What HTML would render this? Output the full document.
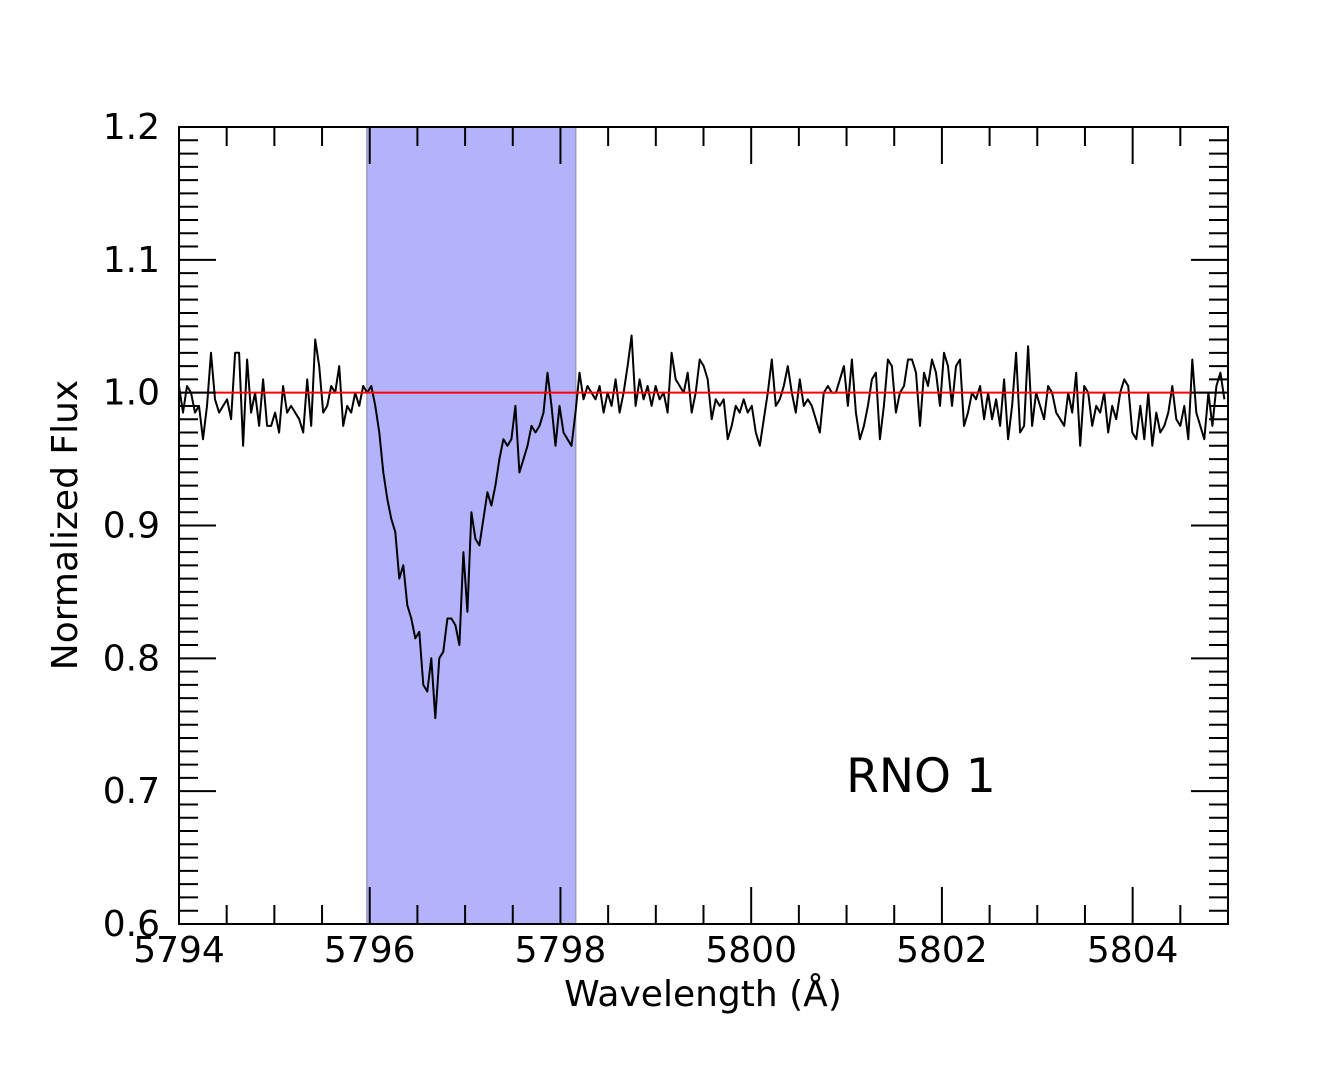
<!DOCTYPE html>
<html><head><meta charset="utf-8"><style>
body{margin:0;background:#fff;}
svg text{font-family:"DejaVu Sans","Liberation Sans",sans-serif;fill:#000;}
</style></head><body>
<svg id="chart" width="1333" height="1066" xmlns="http://www.w3.org/2000/svg">
<g id="plot"></g>
</svg>
<script>
const xTickLabels=[5794,5796,5798,5800,5802,5804];
const yTickLabels=["0.6","0.7","0.8","0.9","1.0","1.1","1.2"];
const bandRange=[5795.97,5798.16];
const continuum=[1.0];
const wlStart=[5794.0];
const wlStep=[0.042];
const fluxPre=[1.005,0.985,1.005,1.0,0.985,0.99,0.965,0.99,1.03,0.995,0.985,0.99,0.995,0.98,1.03,1.03,0.96,1.025,0.985,1.0,0.975,1.01,0.975,0.975,0.985,0.97,1.005,0.985,0.99,0.985,0.98,0.97,1.01,0.975,1.04,1.02,0.985,0.99,1.005,1.0,1.02,0.975,0.99,0.985,1.0,0.99,1.005];
const fluxTrough=[1.0,1.005,0.99,0.97,0.94,0.92,0.905,0.895,0.86,0.87,0.84,0.83,0.815,0.82,0.78,0.775,0.80,0.755,0.80,0.805,0.83,0.83,0.825,0.81,0.88,0.835,0.91,0.89,0.885,0.905,0.925,0.915,0.93,0.95,0.965,0.96,0.965,0.99,0.94,0.95,0.96,0.975,0.97,0.975,0.985,1.015,0.99,0.96,0.99,0.97,0.965,0.96,0.985,1.015,0.995];
const fluxPost=[1.005,1.0,0.995,1.005,0.985,1.0,0.99,1.01,0.985,1.0,1.02,1.043,0.99,1.01,0.995,1.005,0.99,1.005,0.995,1.0,0.985,1.03,1.01,1.005,1.0,1.015,0.985,1.0,1.025,
1.02,1.01,0.98,0.995,0.99,0.995,0.965,0.975,0.99,0.985,0.995,0.985,0.99,0.97,0.96,0.98,1.0,1.025,0.99,0.995,1.005,1.02,1.0,0.985,1.01,0.99,0.995,0.99,0.98,0.97,1.0,1.005,1.0,1.0,1.01,1.02,0.99,1.025,0.985,0.965,0.975,0.99,1.01,1.015,0.965,0.99,1.025,1.02,0.985,1.0,1.005,1.025,1.025,1.015,0.975,1.015,1.005,1.025,1.015,0.99,1.03,1.02,0.99,1.02,1.025,0.975,0.985,1.0,0.995,1.005,0.98,1.0,0.98,0.995,0.975,1.01,0.965,0.99,1.03,0.97,0.975,1.035,0.975,1.0,0.99,0.98,1.005,1.0,0.985,0.98,0.975,1.0,0.985,1.015,0.96,1.005,1.0,0.975,0.99,0.985,1.0,0.97,0.99,0.98,1.0,1.01,1.005,0.97,0.965,0.99,0.965,1.0,0.96,0.985,0.97,0.975,0.985,1.005,0.98,0.975,0.99,0.965,1.025,0.985,0.975,0.965,1.0,0.975,1.005,1.015,0.995,0.97,1.005];

const L=179,R=1228,T=127,B=924,X0=5794,X1=5805,Y0=0.6,Y1=1.2;
const sx=v=>L+(v-X0)/(X1-X0)*(R-L);
const sy=v=>B-(v-Y0)/(Y1-Y0)*(B-T);
const NS="http://www.w3.org/2000/svg";
const g=document.getElementById('plot');
function mk(tag,attrs){const e=document.createElementNS(NS,tag);for(const k in attrs)e.setAttribute(k,attrs[k]);g.appendChild(e);return e;}

let band=mk('rect',{x:sx(bandRange[0]),y:T,width:sx(bandRange[1])-sx(bandRange[0]),height:B-T,fill:'#b3b3fc',stroke:'#9a9ac0','stroke-width':1.5});



const flux=fluxPre.concat(fluxTrough,fluxPost);
let pts=[];
for(let i=0;i<flux.length;i++){const w=wlStart[0]+i*wlStep[0];if(w>X1)break;pts.push(sx(w).toFixed(1)+','+sy(flux[i]).toFixed(1));}
let line=mk('polyline',{points:pts.join(' '),fill:'none',stroke:'#000','stroke-width':2,'stroke-linejoin':'round'});


let rl=mk('line',{x1:L,x2:R,y1:sy(continuum[0]),y2:sy(continuum[0]),stroke:'#f00','stroke-width':2});



for(let v=X0;v<=X1+1e-9;v+=0.5){const x=sx(v);const major=Math.abs(v/2-Math.round(v/2))<1e-6;const len=major?37:19;
 mk('line',{x1:x,x2:x,y1:B,y2:B-len,stroke:'#000','stroke-width':2});mk('line',{x1:x,x2:x,y1:T,y2:T+len,stroke:'#000','stroke-width':2});}
for(let k=0;k<=60;k++){const v=Y0+k*0.01;const y=sy(v);const len=(k%10==0)?37:19;
 mk('line',{x1:L,x2:L+len,y1:y,y2:y,stroke:'#000','stroke-width':2});mk('line',{x1:R,x2:R-len,y1:y,y2:y,stroke:'#000','stroke-width':2});}
let fr=mk('rect',{x:L,y:T,width:R-L,height:B-T,fill:'none',stroke:'#000','stroke-width':2});



xTickLabels.forEach(v=>{const t=mk('text',{x:sx(v),y:962,'text-anchor':'middle','font-size':36});t.textContent=v;
 
 });
yTickLabels.forEach(v=>{const t=mk('text',{x:160,y:sy(parseFloat(v))+12,'text-anchor':'end','font-size':36});t.textContent=v;
 
 });
let xl=mk('text',{x:703,y:1006,'text-anchor':'middle','font-size':36});xl.textContent='Wavelength (Å)';


let yl=mk('text',{x:0,y:0,'text-anchor':'middle','font-size':36,transform:'translate(77,525) rotate(-90)'});yl.textContent='Normalized Flux';


let an=mk('text',{x:921,y:792,'text-anchor':'middle','font-size':47});an.textContent='RNO 1';


</script>
</body></html>
